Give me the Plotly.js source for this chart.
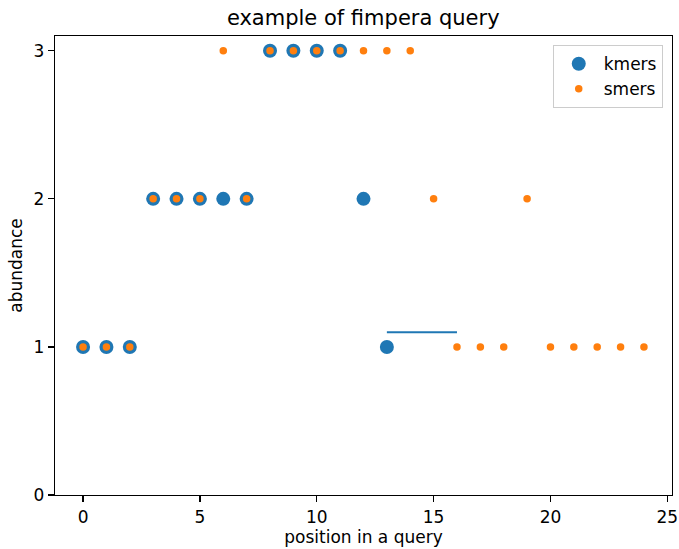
<!DOCTYPE html>
<html>
<head>
<meta charset="utf-8">
<script src="https://cdn.plot.ly/plotly-3.0.1.min.js"></script>
<style>html,body{margin:0;padding:0;background:#fff;}</style>
</head>
<body>
<div id="chart" style="width:679px;height:549px;"></div>
<script>
const kmerX = [0,1,2,3,4,5,6,7,8,9,10,11,12,13];
const kmerY = [1,1,1,2,2,2,2,2,3,3,3,3,2,1];
const smerX = [0,1,2,3,4,5,6,7,8,9,10,11,12,13,14,15,16,17,18,19,20,21,22,23,24];
const smerY = [1,1,1,2,2,2,3,2,3,3,3,3,3,3,3,2,1,1,1,2,1,1,1,1,1];
const lineX = [13,16];
const lineY = [1.1,1.1];

const font = {family:'DejaVu Sans, sans-serif', size:17, color:'#000'};
const data = [
  {x:lineX, y:lineY, mode:'lines', line:{color:'#1f77b4', width:2}, showlegend:false, hoverinfo:'skip'},
  {x:kmerX, y:kmerY, mode:'markers', name:'kmers', marker:{color:'#1f77b4', size:14}},
  {x:smerX, y:smerY, mode:'markers', name:'smers', marker:{color:'#ff7f0e', size:7.5}}
];
const axisCommon = {showgrid:false, zeroline:false, showline:true, mirror:true, linecolor:'#000', linewidth:1.2,
  ticks:'outside', ticklen:6, tickcolor:'#000', tickwidth:1.2, tickfont:font};
const layout = {
  width:679, height:549,
  margin:{l:55, r:7, t:36, b:54},
  paper_bgcolor:'#fff', plot_bgcolor:'#fff',
  font:font,
  title:{text:'example of fimpera query', font:{family:'DejaVu Sans, sans-serif', size:21, color:'#000'}, x:0.535, xanchor:'center', y:0.967, yanchor:'middle'},
  xaxis:Object.assign({}, axisCommon, {range:[-1.2,25.2], tickvals:[0,5,10,15,20,25],
    title:{text:'position in a query', font:font, standoff:5}}),
  yaxis:Object.assign({}, axisCommon, {range:[0,3.1], tickvals:[0,1,2,3],
    title:{text:'abundance', font:font, standoff:6}}),
  legend:{x:0.985, xanchor:'right', y:0.98, yanchor:'top', bordercolor:'#ccc', borderwidth:1, itemwidth:40,
    bgcolor:'rgba(255,255,255,0.8)', font:{family:'DejaVu Sans, sans-serif', size:17, color:'#000'}, tracegroupgap:0},
  showlegend:true
};
Plotly.newPlot('chart', data, layout, {displayModeBar:false, staticPlot:true});
</script>
</body>
</html>
